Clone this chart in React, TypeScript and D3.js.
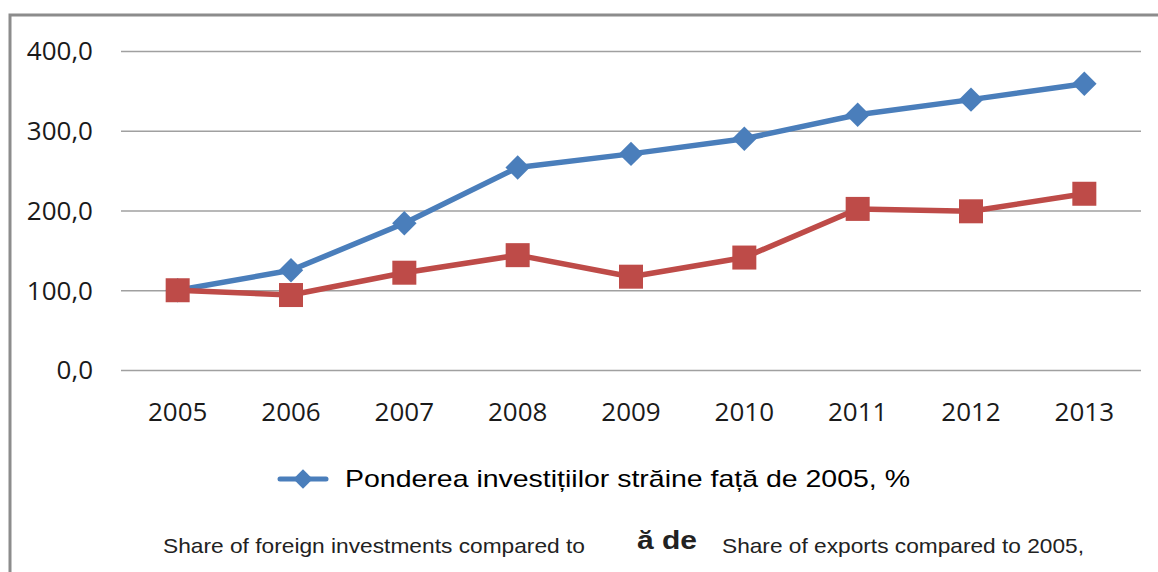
import React, { useEffect, useRef } from "react";
import * as d3 from "d3";

const years = ["2005", "2006", "2007", "2008", "2009", "2010", "2011", "2012", "2013"];
const investments = [100, 125, 184, 254, 271, 290, 320, 339, 359];
const exportsShare = [100, 94, 122, 144, 117, 141, 202, 199, 221];
const yTicks = [0, 100, 200, 300, 400];
const legendLabel = "Ponderea investițiilor străine față de 2005, %";
const footLeft = "Share of foreign investments compared to";
const footMid = "ă de";
const footRight = "Share of exports compared to 2005,";

const BLUE = "#4a7ebb";
const RED = "#be4b48";

const App = () => {
  const ref = useRef<SVGSVGElement>(null);

  useEffect(() => {
    const svg = d3.select(ref.current);
    svg.selectAll("*").remove();

    const x = d3.scaleBand().domain(years).range([121, 1141]).padding(0);
    const y = d3.scaleLinear().domain([0, 400]).range([370, 51]);
    const cx = (d: string) => (x(d) as number) + x.bandwidth() / 2;

    // outer frame
    svg
      .append("rect")
      .attr("x", 10)
      .attr("y", 15)
      .attr("width", 1200)
      .attr("height", 600)
      .attr("fill", "white")
      .attr("stroke", "#8c8c8c")
      .attr("stroke-width", 3);

    // grid
    svg
      .append("g")
      .selectAll("line")
      .data(yTicks)
      .join("line")
      .attr("x1", 121)
      .attr("x2", 1141)
      .attr("y1", (d) => y(d) + 0.5)
      .attr("y2", (d) => y(d) + 0.5)
      .attr("stroke", "#a0a0a0")
      .attr("stroke-width", 1.5);

    svg
      .append("g")
      .selectAll("text")
      .data(yTicks)
      .join("text")
      .attr("x", 93)
      .attr("y", (d) => y(d))
      .attr("dy", "0.36em")
      .attr("text-anchor", "end")
      .style("font-family", "'Open Sans', sans-serif")
      .style("font-size", "26px")
      .attr("fill", "#1a1a1a")
      .text((d) => d3.format(".1f")(d).replace(".", ","));

    svg
      .append("g")
      .selectAll("text")
      .data(years)
      .join("text")
      .attr("x", cx)
      .attr("y", 412)
      .attr("dy", "0.36em")
      .attr("text-anchor", "middle")
      .style("font-family", "'Open Sans', sans-serif")
      .style("font-size", "26px")
      .attr("fill", "#1a1a1a")
      .text((d) => d);

    const line = d3
      .line<number>()
      .x((d, i) => cx(years[i]))
      .y((d) => y(d));

    const diamond = d3.symbol().type(d3.symbolDiamond2).size(380);

    // investments series (blue, diamonds)
    svg
      .append("path")
      .attr("d", line(investments))
      .attr("fill", "none")
      .attr("stroke", BLUE)
      .attr("stroke-width", 5.5)
      .attr("stroke-linejoin", "round");

    svg
      .append("g")
      .selectAll("path")
      .data(investments)
      .join("path")
      .attr("d", diamond)
      .attr("transform", (d, i) => `translate(${cx(years[i])},${y(d)})`)
      .attr("fill", BLUE);

    // exports series (red, squares)
    svg
      .append("path")
      .attr("d", line(exportsShare))
      .attr("fill", "none")
      .attr("stroke", RED)
      .attr("stroke-width", 5.5)
      .attr("stroke-linejoin", "round");

    svg
      .append("g")
      .selectAll("rect")
      .data(exportsShare)
      .join("rect")
      .attr("x", (d, i) => cx(years[i]) - 12)
      .attr("y", (d) => y(d) - 12)
      .attr("width", 24)
      .attr("height", 24)
      .attr("fill", RED);

    // legend
    const lg = svg.append("g").attr("transform", "translate(280,479)");
    lg.append("line")
      .attr("x1", 0)
      .attr("x2", 46)
      .attr("stroke", BLUE)
      .attr("stroke-width", 5)
      .attr("stroke-linecap", "round");
    lg.append("path")
      .attr("d", d3.symbol().type(d3.symbolDiamond2).size(240)())
      .attr("transform", "translate(23,0)")
      .attr("fill", BLUE);
    lg.append("text")
      .attr("x", 65)
      .attr("dy", "0.35em")
      .attr("textLength", 565)
      .attr("lengthAdjust", "spacingAndGlyphs")
      .style("font-family", "'Liberation Sans', Arial, sans-serif")
      .style("font-size", "24px")
      .attr("fill", "#000")
      .text(legendLabel);

    // footer texts
    const foot = svg.append("g").attr("fill", "#222");
    foot
      .append("text")
      .attr("x", 163)
      .attr("y", 553)
      .attr("textLength", 422)
      .attr("lengthAdjust", "spacingAndGlyphs")
      .style("font-family", "'Liberation Sans', Arial, sans-serif")
      .style("font-size", "21px")
      .text(footLeft);
    foot
      .append("text")
      .attr("x", 637)
      .attr("y", 549)
      .attr("textLength", 60)
      .attr("lengthAdjust", "spacingAndGlyphs")
      .style("font-family", "'Liberation Sans', Arial, sans-serif")
      .style("font-size", "25px")
      .style("font-weight", "bold")
      .text(footMid);
    foot
      .append("text")
      .attr("x", 722)
      .attr("y", 553)
      .attr("textLength", 362)
      .attr("lengthAdjust", "spacingAndGlyphs")
      .style("font-family", "'Liberation Sans', Arial, sans-serif")
      .style("font-size", "21px")
      .text(footRight);
  }, []);

  return (
    <svg
      ref={ref}
      width={1158}
      height={572}
      style={{ position: "absolute", left: 0, top: 0, background: "white" }}
    ></svg>
  );
};

export default App;
